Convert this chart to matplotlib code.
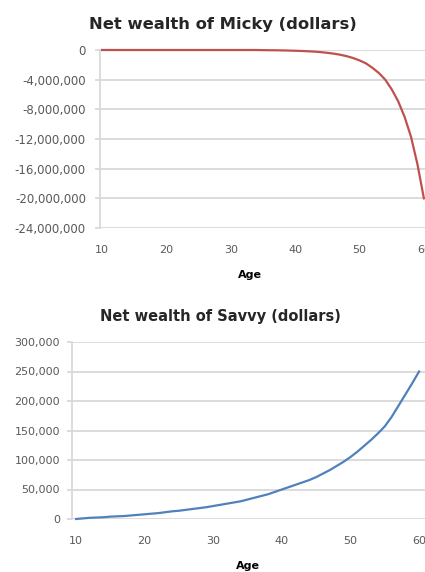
import matplotlib
matplotlib.use("Agg")
import matplotlib.pyplot as plt
from matplotlib.ticker import FuncFormatter

ages = list(range(10, 61))

micky_wealth = [0]*25 + [
    -20e3, -30e3, -40e3, -55e3, -75e3,          # 35-39
    -100e3, -130e3, -170e3, -220e3, -290e3,     # 40-44
    -380e3, -490e3, -640e3, -830e3, -1.08e6,    # 45-49
    -1.4e6, -1.8e6, -2.4e6, -3.1e6, -4.0e6,     # 50-54
    -5.3e6, -6.9e6, -9.0e6, -11.7e6, -15.4e6,   # 55-59
    -20.0e6,                                    # 60
]

savvy_wealth = [
    0, 1000, 2000, 2500, 3000, 4000, 4500, 5000, 6000, 7000,           # 10-19
    8000, 9000, 10000, 11500, 13000, 14000, 15500, 17000, 18500, 20000,  # 20-29
    22000, 24000, 26000, 28000, 30000, 33000, 36000, 39000, 42000, 46000,  # 30-39
    50000, 54000, 58000, 62000, 66000, 71000, 77000, 83000, 90000, 97000,  # 40-49
    105000, 114000, 124000, 134000, 145000, 157000, 173000, 192000, 211000, 230000,  # 50-59
    250000,  # 60
]

x_ticks = [10, 20, 30, 40, 50, 60]
micky_yticks = [0, -4e6, -8e6, -12e6, -16e6, -20e6, -24e6]
savvy_yticks = [0, 50e3, 100e3, 150e3, 200e3, 250e3, 300e3]

W, H = 425, 572
fig = plt.figure(figsize=(W/100, H/100), dpi=100)

def px_axes(left, top, right, bottom):
    return fig.add_axes([left/W, 1 - bottom/H, (right-left)/W, (bottom-top)/H])

grid_c = "#D9D9D9"
tick_c = "#595959"
fmt = FuncFormatter(lambda v, p: "{:,.0f}".format(v))

def style(ax, yticks, xlim, ylim, ysize, ypad):
    ax.set_xlim(*xlim)
    ax.set_ylim(*ylim)
    ax.set_xticks(x_ticks)
    ax.set_yticks(yticks)
    ax.yaxis.set_major_formatter(fmt)
    ax.grid(axis="y", color=grid_c, linewidth=1.3)
    ax.set_axisbelow(True)
    for s in ["top", "right", "bottom"]:
        ax.spines[s].set_visible(False)
    ax.spines["left"].set_color(grid_c)
    ax.spines["left"].set_linewidth(1.3)
    ax.tick_params(axis="y", length=3.6, color=grid_c, width=1.3, labelsize=ysize,
                   labelcolor=tick_c, pad=ypad)
    ax.tick_params(axis="x", length=0, labelsize=8, labelcolor=tick_c, pad=12)
    ax.set_facecolor("white")

# Top chart: Micky
ax1 = px_axes(100, 50, 430, 228)
ax1.plot(ages, micky_wealth, color="#C0504D", linewidth=1.6, clip_on=False)
style(ax1, micky_yticks, (9.7, 60.95), (-24e6, 0), 8.5, 6.5)
ax1.set_xlabel("Age", fontsize=8, fontweight="bold")
ax1.xaxis.set_label_coords((250-100)/330, -(270-228)/178)
fig.text(223/W, 1 - 24/H, "Net wealth of Micky (dollars)", ha="center", va="center",
         fontsize=11.8, fontweight="bold", color="#262626")

# Bottom chart: Savvy
ax2 = px_axes(72, 342, 428, 519)
ax2.plot(ages, savvy_wealth, color="#4F81BD", linewidth=1.6, clip_on=False)
style(ax2, savvy_yticks, (9.42, 61.3), (0, 300e3), 8, 5)
ax2.set_xlabel("Age", fontsize=8, fontweight="bold")
ax2.xaxis.set_label_coords((248-72)/356, -(561-519)/177)
fig.text(220/W, 1 - 317/H, "Net wealth of Savvy (dollars)", ha="center", va="center",
         fontsize=10.5, fontweight="bold", color="#262626")

fig.savefig("out.png", dpi=100)
